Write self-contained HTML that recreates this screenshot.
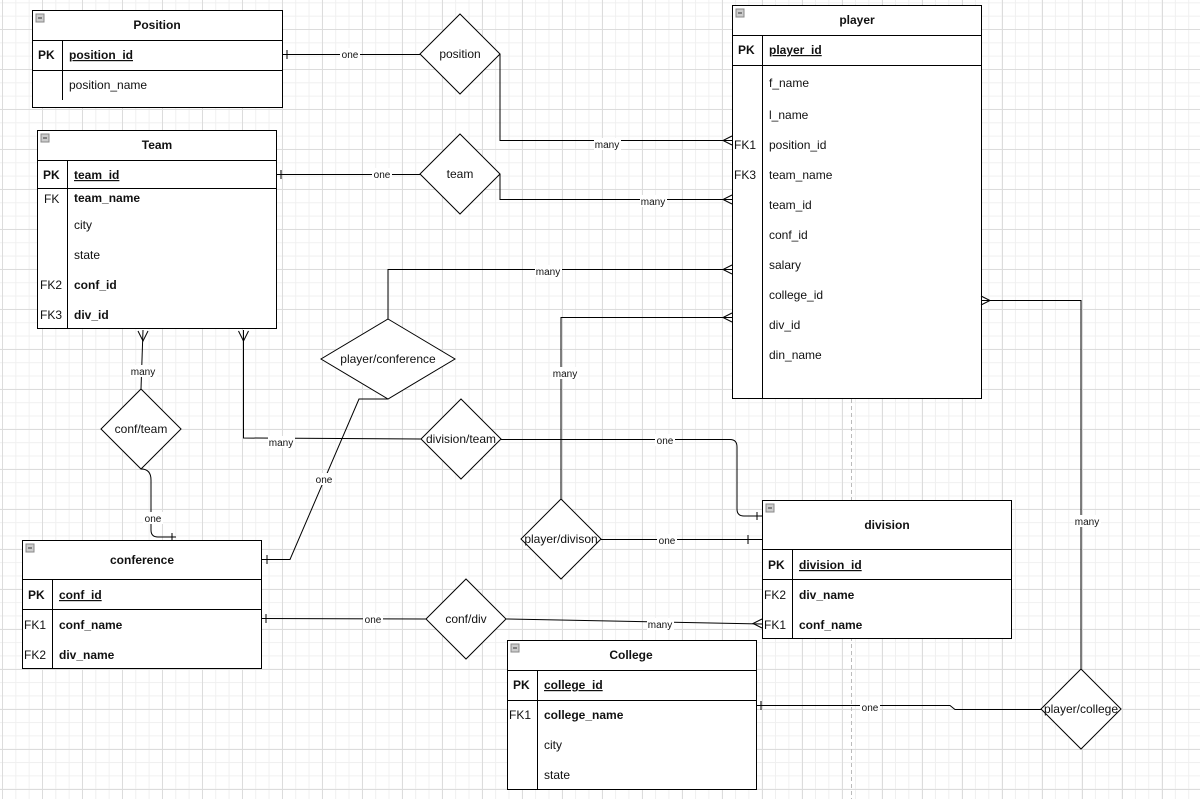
<!DOCTYPE html>
<html><head><meta charset="utf-8"><style>
html,body{margin:0;padding:0}
body{width:1200px;height:799px;overflow:hidden;background-color:#fff;
background-image:linear-gradient(#dcdcdc 1px,transparent 1px),linear-gradient(90deg,#dcdcdc 1px,transparent 1px),linear-gradient(#f0f0f0 1px,transparent 1px),linear-gradient(90deg,#f0f0f0 1px,transparent 1px);
background-size:40px 40px,40px 40px,13.333px 13.333px,13.333px 13.333px;
background-position:2px 29px,2px 29px,2px 29px,2px 29px;
font-family:"Liberation Sans",Arial,sans-serif}
svg{position:absolute;left:0;top:0}
text{font-family:"Liberation Sans",Arial,sans-serif;font-size:12px;fill:#111}
.b{font-weight:bold}
.u{text-decoration:underline}
.lbl{font-size:10px}
</style></head><body>
<svg width="1200" height="799" viewBox="0 0 1200 799">
<defs>
<g id="mini"><rect x="0" y="0" width="8" height="8" fill="#ccc" stroke="#888" stroke-width="1"/><line x1="2" y1="4" x2="6" y2="4" stroke="#333"/></g>
</defs>
<line x1="851.5" y1="35" x2="851.5" y2="799" stroke="#bbb" stroke-dasharray="4,3"/>
<g fill="#fff" stroke="#000" stroke-width="1">
<rect x="32.5" y="10.5" width="250" height="97"/>
<line x1="32.5" y1="40.5" x2="282.5" y2="40.5"/><line x1="32.5" y1="70.5" x2="282.5" y2="70.5"/>
<line x1="62.5" y1="40.5" x2="62.5" y2="100"/>
<rect x="37.5" y="130.5" width="239" height="198"/>
<line x1="37.5" y1="160.5" x2="276.5" y2="160.5"/><line x1="37.5" y1="188.5" x2="276.5" y2="188.5"/>
<line x1="67.5" y1="160.5" x2="67.5" y2="328"/>
<rect x="732.5" y="5.5" width="249" height="393"/>
<line x1="732.5" y1="35.5" x2="981.5" y2="35.5"/><line x1="732.5" y1="65.5" x2="981.5" y2="65.5"/>
<line x1="762.5" y1="35.5" x2="762.5" y2="398"/>
<rect x="22.5" y="540.5" width="239" height="128"/>
<line x1="22.5" y1="579.5" x2="261.5" y2="579.5"/><line x1="22.5" y1="609.5" x2="261.5" y2="609.5"/>
<line x1="52.5" y1="579.5" x2="52.5" y2="668"/>
<rect x="762.5" y="500.5" width="249" height="138"/>
<line x1="762.5" y1="549.5" x2="1011.5" y2="549.5"/><line x1="762.5" y1="579.5" x2="1011.5" y2="579.5"/>
<line x1="792.5" y1="549.5" x2="792.5" y2="638"/>
<rect x="507.5" y="640.5" width="249" height="149"/>
<line x1="507.5" y1="670.5" x2="756.5" y2="670.5"/><line x1="507.5" y1="700.5" x2="756.5" y2="700.5"/>
<line x1="537.5" y1="670.5" x2="537.5" y2="789"/>
</g>
<use href="#mini" x="36" y="14"/><use href="#mini" x="41" y="134"/><use href="#mini" x="736" y="9"/>
<use href="#mini" x="26" y="544"/><use href="#mini" x="766" y="504"/><use href="#mini" x="511" y="644"/>
<g fill="none" stroke="#000" stroke-width="1">
<path d="M282 54.5H420"/><path d="M287 50v9"/>
<path d="M500 54V140.5H732"/><path d="M732 136l-9 4.5 9 4.5"/>
<path d="M276 174.5H420"/><path d="M281 170v9"/>
<path d="M500 174V199.5H732"/><path d="M732 195l-9 4.5 9 4.5"/>
<path d="M388 319V269.5H732"/><path d="M732 265l-9 4.5 9 4.5"/>
<path d="M388 399H359L290 559.5H262"/><path d="M267 555v9"/>
<path d="M141 389L143 330"/><path d="M138 331l5 10 5-10"/>
<path d="M141 469Q151 469 151 480V530Q151 537 158 537H176"/><path d="M172 533v8"/>
<path d="M421 439L243.5 438V330"/><path d="M238.5 331l5 10 5-10"/>
<path d="M501 439.5H730Q737 439.5 737 447V509Q737 516 744 516H762"/><path d="M757 512v8"/>
<path d="M561 499V317.5H732"/><path d="M732 313l-9 4.5 9 4.5"/>
<path d="M601 539.5H762"/><path d="M748 535v9"/>
<path d="M426 619L261 618.5"/><path d="M266 614v9"/>
<path d="M506 619L762 624"/><path d="M762 619l-9 4.5 9 4.5"/>
<path d="M1081 669V300.5H981"/><path d="M981 296l9 4.5-9 4.5"/>
<path d="M1041 709.5H955L950 705.5H756"/><path d="M761 701v9"/>
</g>
<g fill="#fff" stroke="#000" stroke-width="1">
<path d="M460 14L500 54 460 94 420 54Z"/>
<path d="M460 134L500 174 460 214 420 174Z"/>
<path d="M388 319L455 359 388 399 321 359Z"/>
<path d="M141 389L181 429 141 469 101 429Z"/>
<path d="M461 399L501 439 461 479 421 439Z"/>
<path d="M561 499L601 539 561 579 521 539Z"/>
<path d="M466 579L506 619 466 659 426 619Z"/>
<path d="M1081 669L1121 709 1081 749 1041 709Z"/>
</g>
<g class="lbl" text-anchor="middle">
<rect x="340" y="48" width="20" height="12" fill="#fff"/><text x="350" y="58" class="lbl">one</text>
<rect x="594" y="138" width="27" height="12" fill="#fff"/><text x="607" y="148" class="lbl">many</text>
<rect x="372" y="168" width="20" height="12" fill="#fff"/><text x="382" y="178" class="lbl">one</text>
<rect x="640" y="195" width="27" height="12" fill="#fff"/><text x="653" y="205" class="lbl">many</text>
<rect x="535" y="265" width="27" height="12" fill="#fff"/><text x="548" y="275" class="lbl">many</text>
<rect x="314" y="473" width="20" height="12" fill="#fff"/><text x="324" y="483" class="lbl">one</text>
<rect x="130" y="365" width="27" height="12" fill="#fff"/><text x="143" y="375" class="lbl">many</text>
<rect x="143" y="512" width="20" height="12" fill="#fff"/><text x="153" y="522" class="lbl">one</text>
<rect x="268" y="436" width="27" height="12" fill="#fff"/><text x="281" y="446" class="lbl">many</text>
<rect x="655" y="434" width="20" height="12" fill="#fff"/><text x="665" y="444" class="lbl">one</text>
<rect x="552" y="367" width="27" height="12" fill="#fff"/><text x="565" y="377" class="lbl">many</text>
<rect x="657" y="534" width="20" height="12" fill="#fff"/><text x="667" y="544" class="lbl">one</text>
<rect x="363" y="613" width="20" height="12" fill="#fff"/><text x="373" y="623" class="lbl">one</text>
<rect x="647" y="618" width="27" height="12" fill="#fff"/><text x="660" y="628" class="lbl">many</text>
<rect x="1074" y="515" width="27" height="12" fill="#fff"/><text x="1087" y="525" class="lbl">many</text>
<rect x="860" y="701" width="20" height="12" fill="#fff"/><text x="870" y="711" class="lbl">one</text>
</g>
<g text-anchor="middle">
<text x="460" y="58">position</text>
<text x="460" y="178">team</text>
<text x="388" y="363">player/conference</text>
<text x="141" y="433">conf/team</text>
<text x="461" y="443">division/team</text>
<text x="561" y="543">player/divison</text>
<text x="466" y="623">conf/div</text>
<text x="1081" y="713">player/college</text>
</g>
<g text-anchor="middle" class="b">
<text x="157" y="29" class="b">Position</text>
<text x="157" y="149" class="b">Team</text>
<text x="857" y="24" class="b">player</text>
<text x="142" y="564" class="b">conference</text>
<text x="887" y="529" class="b">division</text>
<text x="631" y="659" class="b">College</text>
</g>
<text x="38" y="59" class="b">PK</text><text x="69" y="59" class="b u">position_id</text>
<text x="69" y="89">position_name</text>
<text x="43" y="179" class="b">PK</text><text x="74" y="179" class="b u">team_id</text>
<text x="44" y="203">FK</text><text x="74" y="202" class="b">team_name</text>
<text x="74" y="229">city</text><text x="74" y="259">state</text>
<text x="40" y="289">FK2</text><text x="74" y="289" class="b">conf_id</text>
<text x="40" y="319">FK3</text><text x="74" y="319" class="b">div_id</text>
<text x="738" y="54" class="b">PK</text><text x="769" y="54" class="b u">player_id</text>
<text x="769" y="87">f_name</text><text x="769" y="119">l_name</text>
<text x="734" y="149">FK1</text><text x="769" y="149">position_id</text>
<text x="734" y="179">FK3</text><text x="769" y="179">team_name</text>
<text x="769" y="209">team_id</text><text x="769" y="239">conf_id</text>
<text x="769" y="269">salary</text><text x="769" y="299">college_id</text>
<text x="769" y="329">div_id</text><text x="769" y="359">din_name</text>
<text x="28" y="599" class="b">PK</text><text x="59" y="599" class="b u">conf_id</text>
<text x="24" y="629">FK1</text><text x="59" y="629" class="b">conf_name</text>
<text x="24" y="659">FK2</text><text x="59" y="659" class="b">div_name</text>
<text x="768" y="569" class="b">PK</text><text x="799" y="569" class="b u">division_id</text>
<text x="764" y="599">FK2</text><text x="799" y="599" class="b">div_name</text>
<text x="764" y="629">FK1</text><text x="799" y="629" class="b">conf_name</text>
<text x="513" y="689" class="b">PK</text><text x="544" y="689" class="b u">college_id</text>
<text x="509" y="719">FK1</text><text x="544" y="719" class="b">college_name</text>
<text x="544" y="749">city</text><text x="544" y="779">state</text>
</svg>
</body></html>
